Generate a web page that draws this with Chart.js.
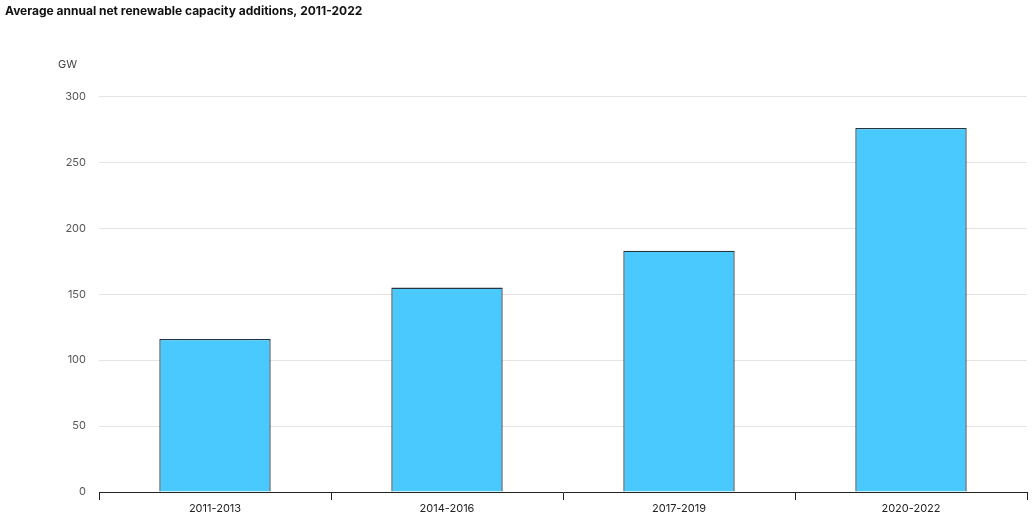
<!DOCTYPE html>
<html>
<head>
<meta charset="utf-8">
<script src="https://cdn.jsdelivr.net/npm/chart.js@4.4.0/dist/chart.umd.min.js"></script>
<style>
  html, body { margin: 0; padding: 0; background: #fff; }
  #wrap { width: 1035px; height: 520px; position: relative; }
</style>
</head>
<body>
<div id="wrap"><canvas id="chart"></canvas></div>
<script>
const periods = ['2011-2013', '2014-2016', '2017-2019', '2020-2022'];
const additions = [116, 155, 183, 276];
const yTicks = [0, 50, 100, 150, 200, 250, 300];
const unitLabel = 'GW';
const titleText = 'Average annual net renewable capacity additions, 2011-2022';

const fontFamily = "Inter, 'Noto Sans', sans-serif";

// small plugin for the unit label above the y axis
const unitPlugin = {
  id: 'unitLabel',
  afterDraw(chart) {
    const ctx = chart.ctx;
    const area = chart.chartArea;
    ctx.save();
    ctx.font = '11px ' + fontFamily;
    ctx.fillStyle = '#444';
    ctx.textAlign = 'left';
    ctx.textBaseline = 'middle';
    ctx.fillText(unitLabel, area.left - 41, area.top - 32);
    ctx.restore();
  }
};

const ctx = document.getElementById('chart').getContext('2d');
new Chart(ctx, {
  type: 'bar',
  data: {
    labels: periods,
    datasets: [{
      data: additions,
      backgroundColor: '#4ac9ff',
      borderColor: '#26343d',
      borderWidth: 1.3,
      barPercentage: 0.48,
      categoryPercentage: 1
    }]
  },
  options: {
    responsive: true,
    maintainAspectRatio: false,
    animation: false,
    layout: { padding: { left: 5, right: 8, top: 0, bottom: 0 } },
    plugins: {
      legend: { display: false },
      tooltip: { enabled: false },
      title: {
        display: true,
        text: titleText,
        align: 'start',
        color: '#111',
        font: { family: fontFamily, size: 12, weight: 'bold' },
        padding: { top: 4, bottom: 78 }
      }
    },
    scales: {
      x: {
        offset: true,
        grid: {
          offset: true,
          drawOnChartArea: false,
          drawTicks: true,
          tickLength: 8,
          color: '#222',
          lineWidth: 1
        },
        border: { display: true, color: '#222', width: 1 },
        ticks: {
          color: '#222',
          padding: 2,
          font: { family: fontFamily, size: 11 }
        },
        afterFit(scale) { scale.height = 28; }
      },
      y: {
        min: 0,
        max: 300,
        afterBuildTicks(scale) { scale.ticks = yTicks.map(v => ({ value: v })); },
        grid: { color: '#e4e4e4', drawTicks: false, lineWidth: 1 },
        border: { display: false },
        ticks: {
          color: '#555',
          padding: 13,
          font: { family: fontFamily, size: 11 }
        },
        afterFit(scale) { scale.width = 94; }
      }
    }
  },
  plugins: [unitPlugin]
});
</script>
</body>
</html>
